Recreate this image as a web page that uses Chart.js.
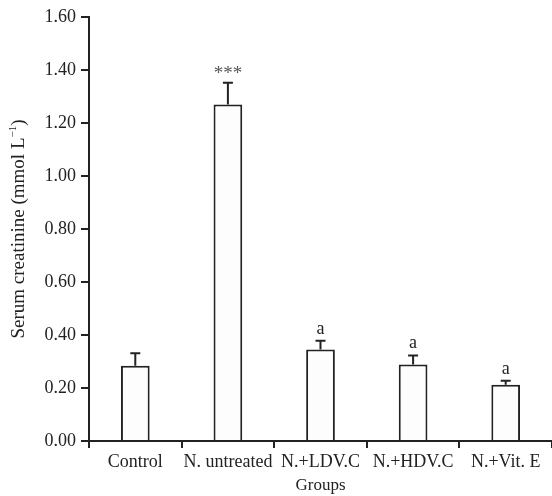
<!DOCTYPE html>
<html>
<head>
<meta charset="utf-8">
<script src="https://cdn.jsdelivr.net/npm/chart.js@4/dist/chart.umd.min.js"></script>
<style>
  html, body { margin: 0; padding: 0; background: #fff; }
  #wrap { width: 552px; height: 496px; }
</style>
</head>
<body>
<div id="wrap"><canvas id="creatChart"></canvas></div>
<script>
// data
var groups = ["Control", "N. untreated", "N.+LDV.C", "N.+HDV.C", "N.+Vit. E"];
var creatinine = [0.284, 1.270, 0.345, 0.289, 0.212];
var errorUp = [0.047, 0.082, 0.033, 0.034, 0.015];
var marks = ["", "***", "a", "a", "a"];

var ink = '#222';
var serif = "'Liberation Serif', 'Times New Roman', serif";

//////////////// error bars, significance letters, y title

var errorBars = {
    id: 'errorBars',
    afterDatasetsDraw: function(chart) {
        var ctx = chart.ctx;
        var xs = chart.scales.x;
        var ys = chart.scales.y;
        var area = chart.chartArea;
        ctx.save();
        ctx.strokeStyle = ink;
        ctx.lineWidth = 2;
        for (var i = 0; i < creatinine.length; i++) {
            var x = xs.getPixelForValue(i);
            var yBar = ys.getPixelForValue(creatinine[i]);
            var yErr = ys.getPixelForValue(creatinine[i] + errorUp[i]);
            ctx.beginPath();
            ctx.moveTo(x, yBar);
            ctx.lineTo(x, yErr);
            ctx.moveTo(x - 5, yErr);
            ctx.lineTo(x + 5, yErr);
            ctx.stroke();
            if (marks[i]) {
                ctx.textAlign = 'center';
                ctx.textBaseline = 'bottom';
                if (marks[i] === '***') {
                    ctx.fillStyle = '#555';
                    ctx.font = '19px ' + serif;
                    ctx.fillText(marks[i], x, yErr + 1);
                } else {
                    ctx.fillStyle = ink;
                    ctx.font = '18px ' + serif;
                    ctx.fillText(marks[i], x, yErr - 3);
                }
            }
        }

        // y title with a raised -1
        ctx.translate(19, (area.top + area.bottom) / 2);
        ctx.rotate(-Math.PI / 2);
        ctx.fillStyle = ink;
        ctx.textBaseline = 'middle';
        ctx.textAlign = 'left';
        var main = 'Serum creatinine (mmol L';
        var sup = '\u22121';
        ctx.font = '19px ' + serif;
        var w1 = ctx.measureText(main).width;
        var w3 = ctx.measureText(')').width;
        ctx.font = '11px ' + serif;
        var w2 = ctx.measureText(sup).width;
        var x0 = -(w1 + w2 + w3) / 2;
        ctx.font = '19px ' + serif;
        ctx.fillText(main, x0, 0);
        ctx.fillText(')', x0 + w1 + w2, 0);
        ctx.font = '11px ' + serif;
        ctx.fillText(sup, x0 + w1, -6);
        ctx.restore();
    }
};

//////////////// chart

var creatChart = new Chart(document.getElementById('creatChart'), {
    type: 'bar',
    data: {
        labels: groups,
        datasets: [{
            data: creatinine,
            backgroundColor: '#fdfdfd',
            borderColor: ink,
            borderWidth: 2,
            borderSkipped: 'bottom',
            barPercentage: 0.31,
            categoryPercentage: 1
        }]
    },
    options: {
        responsive: true,
        maintainAspectRatio: false,
        animation: false,
        layout: { padding: { top: 17, right: 0, left: 0, bottom: 0 } },
        plugins: {
            legend: { display: false },
            tooltip: { enabled: false }
        },
        scales: {
            x: {
                grid: {
                    offset: true,
                    drawOnChartArea: false,
                    tickLength: 7,
                    color: ink,
                    lineWidth: 2
                },
                border: { color: ink, width: 2 },
                ticks: {
                    color: ink,
                    padding: 3,
                    maxRotation: 0,
                    autoSkip: false,
                    font: { family: serif, size: 18 }
                },
                title: {
                    display: true,
                    text: 'Groups',
                    color: ink,
                    padding: { top: 0, bottom: 0 },
                    font: { family: serif, size: 17 }
                },
                afterFit: function(scale) { scale.height = 55; }
            },
            y: {
                min: 0,
                max: 1.6,
                grid: {
                    drawOnChartArea: false,
                    tickLength: 8,
                    color: ink,
                    lineWidth: 2
                },
                border: { color: ink, width: 2 },
                ticks: {
                    stepSize: 0.2,
                    color: ink,
                    padding: 5,
                    font: { family: serif, size: 18 },
                    callback: function(v) { return Number(v).toFixed(2); }
                },
                afterFit: function(scale) { scale.width = 89; }
            }
        }
    },
    plugins: [errorBars]
});
</script>
</body>
</html>
